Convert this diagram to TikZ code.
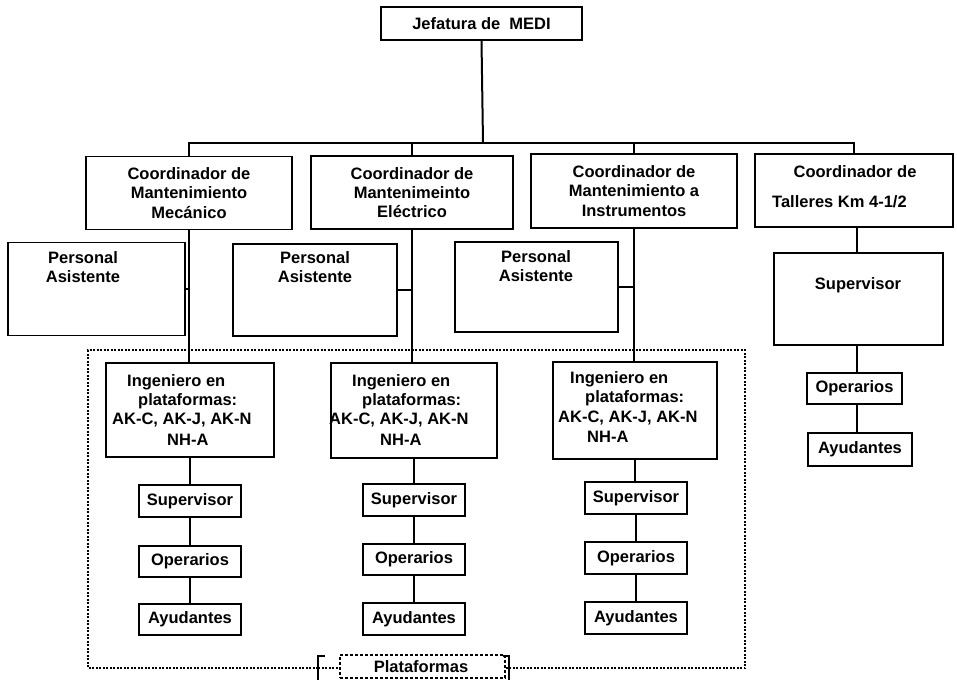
\documentclass[tikz,border=0pt]{standalone}
\usepackage{fontspec}
\setmainfont{Liberation Sans}
\begin{document}
\begin{tikzpicture}[x=1pt,y=-1pt,
  box/.style={draw, line width=1.8pt, inner sep=0pt, rectangle},
  txt/.style={font=\fontsize{16.5}{19.3}\selectfont\bfseries, inner sep=0pt, align=center},
  conn/.style={line width=2pt},
  dotb/.style={line width=1.3pt, dash pattern=on 2pt off 1.5pt},
  dashb/.style={draw, line width=1.3pt, dash pattern=on 3pt off 2pt, inner sep=0pt, rectangle}]
\useasboundingbox (0,0) rectangle (957,680);

% top
\node[box, txt, minimum width=201pt, minimum height=33pt] (top) at (481.5,23.5) {Jefatura de\ \ MEDI};

% coordinators
\node[box, txt, minimum width=206pt, minimum height=73pt] (c1) at (189,193) {Coordinador de\\Mantenimiento\\Mec\'anico};
\node[box, txt, minimum width=202pt, minimum height=73pt] (c2) at (412,192.5) {Coordinador de\\Mantenimeinto\\El\'ectrico};
\node[box, txt, minimum width=206pt, minimum height=74pt] (c3) at (634,191) {Coordinador de\\Mantenimiento a\\Instrumentos};
\node[box, minimum width=198pt, minimum height=73pt] (c4) at (854,190.5) {};
\node[txt] (c4a) at (855,172) {Coordinador de};
\node[txt, anchor=west] (c4b) at (772,202) {Talleres Km 4-1/2};

% bus
\coordinate (bus) at (483,143);
\draw[conn] (top.south) -- (bus);
\draw[conn] (c1.north) -- (c1.north |- bus) -- (c4.north |- bus) -- (c4.north);
\draw[conn] (c2.north) -- (c2.north |- bus);
\draw[conn] (c3.north) -- (c3.north |- bus);

% personal asistente
\node[box, minimum width=177pt, minimum height=93pt] (p1) at (96.5,289) {};
\node[txt] (p1t) at (83,267) {Personal\\Asistente};
\node[box, minimum width=164pt, minimum height=92pt] (p2) at (315,290) {};
\node[txt] (p2t) at (315,267) {Personal\\Asistente};
\node[box, minimum width=163pt, minimum height=90pt] (p3) at (536.5,287) {};
\node[txt] (p3t) at (536,266) {Personal\\Asistente};

% dotted platform area
\draw[dotb] (318,668) -- (88,668) -- (88,350) -- (745,350) -- (745,668) -- (505,668);
\draw[dotb] (318,668) -- (340,668);
\node[dashb, minimum width=165pt, minimum height=23pt] (plat) at (422.5,666.5) {};
\node[txt] (platt) at (421,667) {Plataformas};
\draw[conn] (325,656) -- (318,656) -- (318,680);
\draw[conn] (503,656) -- (509,656) -- (509,680);

% ingenieros
\node[box, minimum width=168pt, minimum height=94pt] (i1) at (190,410) {};
\node[box, minimum width=166pt, minimum height=95pt] (i2) at (414,410.5) {};
\node[box, minimum width=164pt, minimum height=97pt] (i3) at (635,410.5) {};

\node[txt, anchor=west] (i1a) at (127,382) {Ingeniero en};
\node[txt, anchor=west] (i1b) at (138,401) {plataformas:};
\node[txt, anchor=west] (i1c) at (112,420) {AK-C, AK-J, AK-N};
\node[txt, anchor=west] (i1d) at (167,440) {NH-A};

\node[txt, anchor=west] (i2a) at (352,382) {Ingeniero en};
\node[txt, anchor=west] (i2b) at (362,401) {plataformas:};
\node[txt, anchor=west] (i2c) at (329,420) {AK-C, AK-J, AK-N};
\node[txt, anchor=west] (i2d) at (380,440) {NH-A};

\node[txt, anchor=west] (i3a) at (570,379) {Ingeniero en};
\node[txt, anchor=west] (i3b) at (585,398) {plataformas:};
\node[txt, anchor=west] (i3c) at (558,418) {AK-C, AK-J, AK-N};
\node[txt, anchor=west] (i3d) at (587,437) {NH-A};

% lower chains
\node[box, txt, minimum width=102pt, minimum height=32pt] (s1) at (190,501) {Supervisor};
\node[box, txt, minimum width=102pt, minimum height=31pt] (o1) at (190,561.5) {Operarios};
\node[box, txt, minimum width=102pt, minimum height=31pt] (a1) at (190,619.5) {Ayudantes};

\node[box, txt, minimum width=102pt, minimum height=32pt] (s2) at (414,500) {Supervisor};
\node[box, txt, minimum width=102pt, minimum height=31pt] (o2) at (414,559.5) {Operarios};
\node[box, txt, minimum width=102pt, minimum height=32pt] (a2) at (414,619) {Ayudantes};

\node[box, txt, minimum width=102pt, minimum height=32pt] (s3) at (636,498) {Supervisor};
\node[box, txt, minimum width=102pt, minimum height=32pt] (o3) at (636,558) {Operarios};
\node[box, txt, minimum width=102pt, minimum height=32pt] (a3) at (636,618) {Ayudantes};

% right column
\node[box, minimum width=169pt, minimum height=92pt] (s4) at (858.5,299) {};
\node[txt] (s4t) at (858,285) {Supervisor};
\node[box, txt, minimum width=95pt, minimum height=31pt] (o4) at (854.5,388.5) {Operarios};
\node[box, txt, minimum width=104pt, minimum height=33pt] (a4) at (860,449.5) {Ayudantes};

% vertical connectors
\draw[conn] (c1.south) -- (c1.south |- i1.north);
\draw[conn] (p1.east) -- (p1.east -| c1.south);
\draw[conn] (i1.south) -- (i1.south |- s1.north);
\draw[conn] (s1.south) -- (s1.south |- o1.north);
\draw[conn] (o1.south) -- (o1.south |- a1.north);

\draw[conn] (c2.south) -- (c2.south |- i2.north);
\draw[conn] (p2.east) -- (p2.east -| c2.south);
\draw[conn] (i2.south) -- (i2.south |- s2.north);
\draw[conn] (s2.south) -- (s2.south |- o2.north);
\draw[conn] (o2.south) -- (o2.south |- a2.north);

\draw[conn] (c3.south) -- (c3.south |- i3.north);
\draw[conn] (p3.east) -- (p3.east -| c3.south);
\draw[conn] (i3.south) -- (i3.south |- s3.north);
\draw[conn] (s3.south) -- (s3.south |- o3.north);
\draw[conn] (o3.south) -- (o3.south |- a3.north);

\coordinate (r4) at (857,0);
\draw[conn] (c4.south -| r4) -- (s4.north -| r4);
\draw[conn] (s4.south -| r4) -- (o4.north -| r4);
\draw[conn] (o4.south -| r4) -- (a4.north -| r4);
\end{tikzpicture}
\end{document}
